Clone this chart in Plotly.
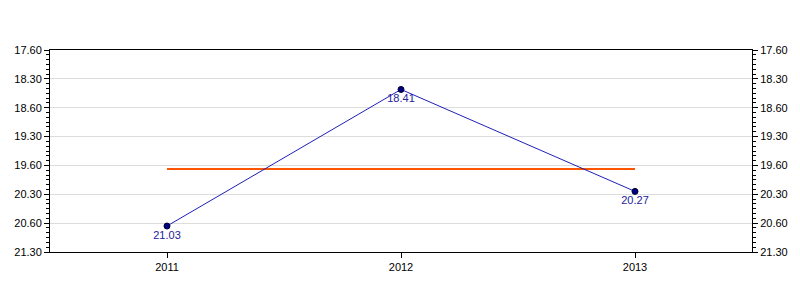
import plotly.graph_objects as go

years = ["2011", "2012", "2013"]
times = ["21.03", "18.41", "20.27"]  # minutes.seconds
tick_labels = ["17.60", "18.30", "18.60", "19.30", "19.60", "20.30", "20.60", "21.30"]
tick_seconds = [1080, 1110, 1140, 1170, 1200, 1230, 1260, 1290]


def to_sec(s):
    m, sec = s.split(".")
    return int(m) * 60 + int(sec)


secs = [to_sec(t) for t in times]
avg = sum(secs) / len(secs)

fig = go.Figure()
fig.add_trace(go.Scatter(
    x=[years[0], years[-1]], y=[avg, avg], mode="lines",
    line=dict(color="#FF5500", width=2), hoverinfo="skip", showlegend=False,
))
fig.add_trace(go.Scatter(
    x=years, y=secs, mode="lines+markers+text",
    text=times, textposition="bottom center",
    textfont=dict(family="Liberation Sans, Arial", size=11, color="#22229A"),
    line=dict(color="#1F1FB8", width=1),
    marker=dict(color="#000080", size=6, line=dict(color="#000033", width=1)),
    showlegend=False,
))
# mirror axis on right
fig.add_trace(go.Scatter(x=[years[0]], y=[secs[0]], yaxis="y2", mode="markers",
                         marker=dict(opacity=0), hoverinfo="skip", showlegend=False))

yax = dict(
    range=[1290, 1080], tickvals=tick_seconds, ticktext=tick_labels,
    ticks="outside", ticklen=5, tickcolor="#000", showline=True, linecolor="#000",
    linewidth=1, showgrid=True, gridcolor="#DDDDDD", zeroline=False,
    minor=dict(dtick=5, tick0=1080, ticks="outside", ticklen=3, tickcolor="#000", showgrid=False),
    tickfont=dict(family="Liberation Sans, Arial", size=11, color="#000"),
)
fig.update_layout(
    width=800, height=300,
    margin=dict(l=50, r=48, t=50, b=48),
    paper_bgcolor="white", plot_bgcolor="white",
    xaxis=dict(
        type="category", categoryorder="array", categoryarray=years,
        range=[-0.5, 2.5], ticks="outside", ticklen=5,
        tickcolor="#000", showline=True, linecolor="#000", mirror=True,
        showgrid=False, tickfont=dict(family="Liberation Sans, Arial", size=11, color="#000"),
    ),
    yaxis=yax,
    yaxis2=dict(yax, overlaying="y", side="right", showgrid=False),
)
fig.write_html("out.html")
